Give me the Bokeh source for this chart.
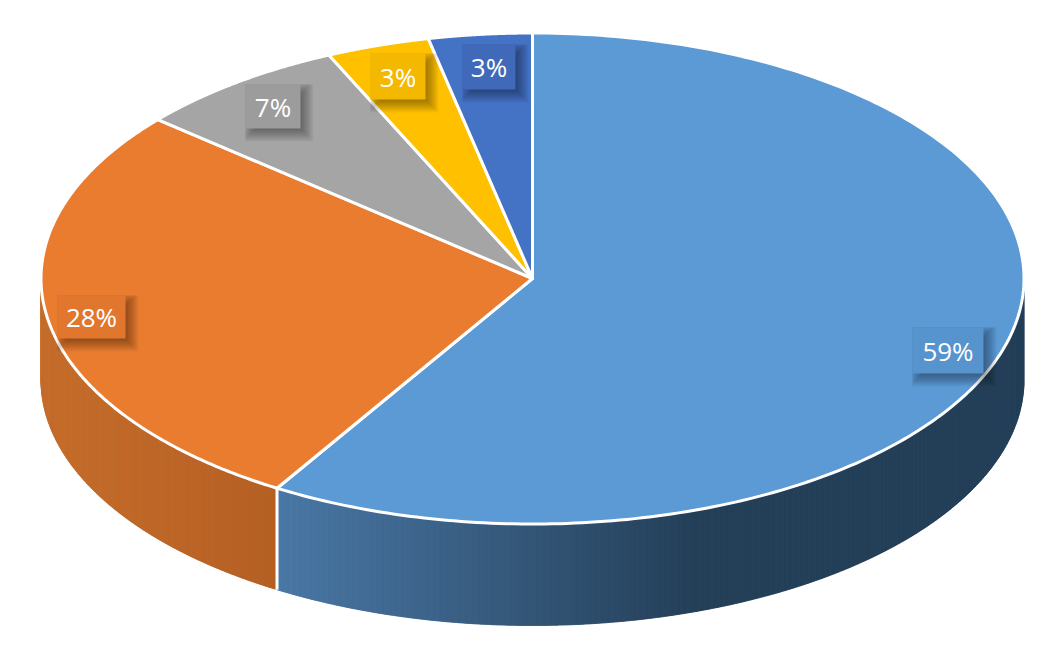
import numpy as np
from bokeh.plotting import figure
from bokeh.models import Range1d
from bokeh.core.properties import value
from bokeh.embed import file_html
from bokeh.resources import INLINE

# data
categories = ["A", "B", "C", "D", "E"]
shares = [58.7, 27.5, 7.0, 3.4, 3.4]
labels = ["59%", "28%", "7%", "3%", "3%"]

# styles
top_colors = ["#5B9AD5", "#EA7C30", "#A5A5A5", "#FFC000", "#4472C4"]
box_colors = ["#5793CD", "#E1762E", "#9C9C9C", "#F4B800", "#4069BA"]

# layout in picture pixels
CX, CY, RX, RY, DEPTH = 532.0, 278.0, 491.5, 245.5, 101.5
label_boxes = [(912, 327, 983, 373), (57, 295, 125, 338), (245, 84, 300, 128),
               (370, 53, 425, 99), (462, 44, 515, 89)]

p = figure(width=1030, height=635, output_backend="svg", toolbar_location=None,
           x_range=Range1d(0, 1030), y_range=Range1d(635, 0), min_border=0,
           outline_line_color=None, background_fill_color="white", border_fill_color="white")
p.axis.visible = False
p.grid.visible = False


def ex(t):
    return CX + RX * np.sin(t)


def ey(t):
    return CY - RY * np.cos(t)


def lerp(a, b, f):
    f = min(max(f, 0.0), 1.0)
    c = [int(round(a[i] + (b[i] - a[i]) * f)) for i in range(3)]
    return "#%02x%02x%02x" % tuple(c)


edges = np.radians(np.concatenate([[0], np.cumsum(shares)]) * 3.6)


def side_strips(t0, t1, color_at):
    ts = np.linspace(t0, t1, 161)
    xs, ys, cs = [], [], []
    for i in range(len(ts) - 1):
        end = min(i + 2, len(ts) - 1)
        seg = np.linspace(ts[i], ts[end], 5)
        xs.append(np.concatenate([ex(seg), ex(seg[::-1])]).tolist())
        ys.append(np.concatenate([ey(seg), ey(seg[::-1]) + DEPTH]).tolist())
        cs.append(color_at(float(ex(ts[i]))))
    return xs, ys, cs


def blue_side(x):
    return lerp((0x4A, 0x78, 0xA6), (0x24, 0x3F, 0x58), (x - 277) / (700 - 277))


def orange_side(x):
    return lerp((0xB5, 0x60, 0x24), (0xC6, 0x6E, 0x2C), (277 - x) / (277 - 41))


xs, ys, cs = side_strips(np.pi / 2, edges[1], blue_side)
p.patches(xs, ys, fill_color=cs, line_color=cs, line_width=0.5)
xs, ys, cs = side_strips(edges[1], 1.5 * np.pi, orange_side)
p.patches(xs, ys, fill_color=cs, line_color=cs, line_width=0.5)

# separator on the side
sx = float(ex(edges[1]))
sy = float(ey(edges[1]))
p.line([sx, sx], [sy, sy + DEPTH], line_color="white", line_width=3)

# top slices
wx, wy = [], []
for i in range(len(shares)):
    arc = np.linspace(edges[i], edges[i + 1], 240)
    wx.append([CX] + ex(arc).tolist())
    wy.append([CY] + ey(arc).tolist())
p.patches(wx, wy, fill_color=top_colors, line_color="white", line_width=3, line_join="round")

# labels
OFFSET = 5
for (x0, y0, x1, y1), txt, col in zip(label_boxes, labels, box_colors):
    for g in range(8, -6, -1):
        p.quad(left=[max(x0, x0 + OFFSET - g)], right=[x1 + OFFSET + g],
               top=[max(y0, y0 + OFFSET - g)], bottom=[y1 + OFFSET + g],
               fill_color="black", fill_alpha=0.033, line_color=None)
    p.quad(left=[x0], right=[x1], top=[y0], bottom=[y1], fill_color=col, line_color=None)
    p.text([(x0 + x1) / 2], [(y0 + y1) / 2], text=[txt], text_color="white",
           text_font=value("'Open Sans'"), text_font_size="26px",
           text_align="center", text_baseline="middle")

open("out.html", "w").write(file_html(p, INLINE))
